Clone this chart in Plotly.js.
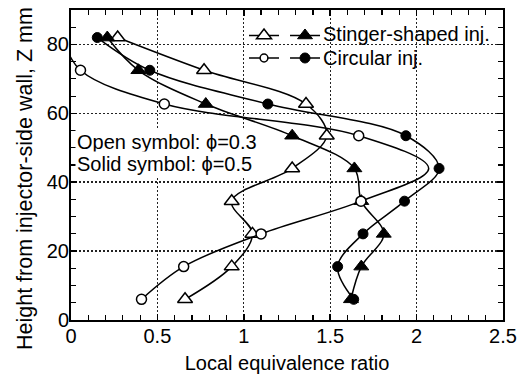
<!DOCTYPE html>
<html>
<head>
<meta charset="utf-8">
<script src="https://cdn.plot.ly/plotly-3.0.1.min.js"></script>
<style>
  html, body { margin: 0; padding: 0; background: #fff; }
  #chart { width: 517px; height: 374px; }
</style>
</head>
<body>
<div id="chart"></div>
<script>
// Sampling heights above the injector-side wall (mm)
const heightZ = [82, 72.5, 62.7, 53.5, 44, 34.5, 25, 15.5, 6];

// Stinger-shaped injector: local equivalence ratio at each height
const stingerLean = [0.27, 0.77, 1.36, 1.48, 1.28, 0.93, 1.05, 0.93, 0.66];   // overall phi = 0.3
const stingerRich = [0.21, 0.39, 0.78, 1.28, 1.64, 1.68, 1.81, 1.68, 1.62];   // overall phi = 0.5

// Circular injector: measured points (none shown at 82 mm and 44 mm for phi = 0.3)
const circularLean = [null, 0.055, 0.54, 1.665, null, 1.678, 1.10, 0.652, 0.408];
const circularRich = [0.152, 0.456, 1.139, 1.938, 2.13, 1.93, 1.69, 1.543, 1.636];
// Fitted profile for the circular injector, phi = 0.3
const circularLeanFit = [-0.05, 0.055, 0.54, 1.665, 2.07, 1.678, 1.10, 0.652, 0.408];

// Legend labels, note text, axis titles and tick values
const seriesLabels = ['Stinger-shaped inj.', 'Circular inj.'];
const noteLines = ['Open symbol: \u03D5=0.3', 'Solid symbol: \u03D5=0.5'];
const xTitle = 'Local equivalence ratio';
const yTitle = 'Height from injector-side wall, Z mm';
const xTicks = [0, 0.5, 1, 1.5, 2, 2.5];
const yTicks = [0, 20, 40, 60, 80];

const FONT = 'Liberation Sans, Arial, Helvetica, sans-serif';

function profile(x, symbol, filled, legendId, size) {
  return {
    type: 'scatter',
    mode: 'lines+markers',
    x: x,
    y: heightZ,
    name: '',
    legend: legendId,
    line: { color: '#000', width: 1.5, shape: 'spline', smoothing: 1 },
    marker: {
      symbol: symbol,
      size: size,
      opacity: 1,
      color: filled ? '#000' : '#fff',
      line: { color: '#000', width: filled ? 1 : 1.5 }
    },
    hoverinfo: 'x+y'
  };
}

const circleLeanSizes = circularLean.map(v => (v === null ? 0 : 10));

const traces = [
  profile(stingerLean, 'triangle-up', false, 'legend', 13),
  profile(stingerRich, 'triangle-up', true, 'legend2', 13),
  profile(circularLeanFit, 'circle', false, 'legend', circleLeanSizes),
  profile(circularRich, 'circle', true, 'legend2', 10)
];

const axisCommon = {
  ticks: 'inside',
  ticklen: 6,
  tickwidth: 1.5,
  tickcolor: '#000',
  showline: true,
  linewidth: 2,
  linecolor: '#000',
  mirror: 'ticks',
  zeroline: false,
  showgrid: true,
  gridcolor: '#222',
  tickfont: { size: 20, family: FONT, color: '#000' }
};

const layout = {
  width: 517,
  height: 374,
  margin: { l: 71, r: 14, t: 10, b: 54 },
  paper_bgcolor: '#fff',
  plot_bgcolor: '#fff',
  font: { family: FONT, size: 20, color: '#000' },
  showlegend: true,
  xaxis: Object.assign({}, axisCommon, {
    range: [0, 2.5],
    tickvals: xTicks,
    ticktext: xTicks.map(String),
    ticklabelstandoff: -3,
    gridwidth: 1,
    griddash: '2px,2px',
    minor: { dtick: 0.1, tick0: 0, ticks: 'inside', ticklen: 5, tickwidth: 1.2, tickcolor: '#000', showgrid: false },
    title: { text: xTitle, font: { size: 20, family: FONT }, standoff: 11 }
  }),
  yaxis: Object.assign({}, axisCommon, {
    range: [0, 90],
    tickvals: yTicks,
    ticktext: yTicks.map(String),
    ticklabelstandoff: -4,
    gridwidth: 1.5,
    griddash: '2px,2px',
    minor: { dtick: 5, tick0: 0, ticks: 'inside', ticklen: 5, tickwidth: 1.2, tickcolor: '#000', showgrid: false }
  }),
  legend: {
    x: 0.4005, y: 0.9702, xanchor: 'left', yanchor: 'top',
    bgcolor: 'rgba(0,0,0,0)', borderwidth: 0,
    font: { size: 15, family: FONT }, tracegroupgap: 0
  },
  legend2: {
    x: 0.4954, y: 0.9702, xanchor: 'left', yanchor: 'top',
    bgcolor: 'rgba(0,0,0,0)', borderwidth: 0,
    font: { size: 15, family: FONT }, tracegroupgap: 0
  },
  // white backdrop behind the key, above the grid but below the curves
  shapes: [{
    type: 'rect', xref: 'paper', yref: 'paper',
    x0: 0.398, x1: 0.995, y0: 0.787, y1: 0.995,
    fillcolor: '#fff', line: { width: 0 }, layer: 'between'
  }],
  annotations: [
    { text: seriesLabels[0], xref: 'paper', yref: 'paper', x: 0.5794, y: 0.9217, xanchor: 'left', yanchor: 'middle', showarrow: false, font: { size: 20 } },
    { text: seriesLabels[1], xref: 'paper', yref: 'paper', x: 0.5794, y: 0.8462, xanchor: 'left', yanchor: 'middle', showarrow: false, font: { size: 20 } },
    { text: noteLines[0], xref: 'paper', yref: 'paper', x: 0.00995, y: 0.5742, xanchor: 'left', yanchor: 'middle', showarrow: false, bgcolor: '#fff', font: { size: 20 } },
    { text: noteLines[1], xref: 'paper', yref: 'paper', x: 0.00995, y: 0.5042, xanchor: 'left', yanchor: 'middle', showarrow: false, bgcolor: '#fff', font: { size: 20 } },
    // vertical axis title
    { text: yTitle, xref: 'paper', yref: 'paper', x: -0.1065, y: 0.458, xanchor: 'center', yanchor: 'middle', textangle: -90, showarrow: false, font: { size: 21.5 } }
  ]
};

Plotly.newPlot('chart', traces, layout, { displayModeBar: false, staticPlot: true });
</script>
</body>
</html>
